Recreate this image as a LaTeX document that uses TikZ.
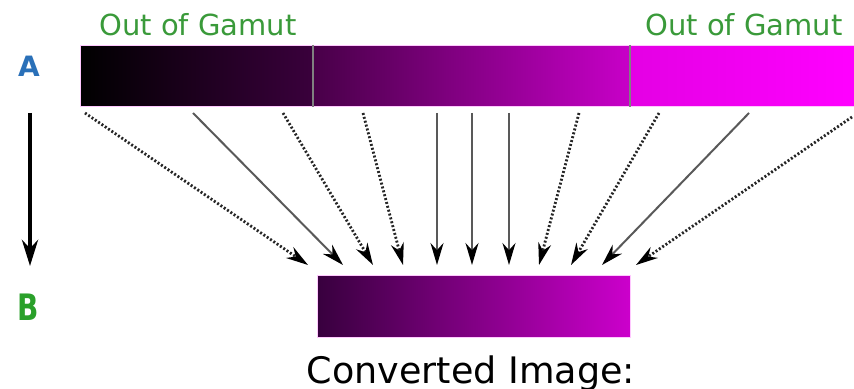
\documentclass[tikz,border=0pt]{standalone}
\usepackage{fontspec}
\setmainfont{DejaVu Sans}
\usepackage{tikz}
\usetikzlibrary{arrows.meta}

\definecolor{gamutgreen}{HTML}{3A9A3A}
\definecolor{labelblue}{HTML}{2A70B8}
\definecolor{labelgreen}{HTML}{2AA02A}
\definecolor{barpink}{HTML}{FFC8FF}

\tikzset{
  bar/.style={draw=barpink, line width=0.5pt, inner sep=0pt, anchor=north west},
  maparrow/.style={line width=1pt, gray!70!black, -{Stealth[length=11pt, width=6.5pt, color=black]}},
  maparrowdot/.style={maparrow, densely dotted, line width=1.4pt, black!85},
  gamutlabel/.style={font=\fontsize{14.5}{16}\selectfont, text=gamutgreen, inner sep=0pt, anchor=base},
  sidelabel/.style={font=\fontsize{14}{16}\selectfont\bfseries, inner sep=0pt}
}

\begin{document}
\begin{tikzpicture}[x=0.5pt, y=-0.5pt]
  \useasboundingbox (0,0) rectangle (854,389);
  % source range (A), three zones
  \node[bar, minimum width=116.5pt, minimum height=30.5pt, left color=black, right color={rgb,255:red,58;green,0;blue,60}] (darkzone) at (80,45) {};
  \node[bar, minimum width=158.5pt, minimum height=30.5pt, left color={rgb,255:red,72;green,0;blue,72}, right color={rgb,255:red,200;green,0;blue,200}] (inzone) at (313,45) {};
  \node[bar, minimum width=112pt, minimum height=30.5pt, left color={rgb,255:red,228;green,0;blue,228}, right color={rgb,255:red,255;green,0;blue,255}] (brightzone) at (630,45) {};
  \draw[gray, line width=0.8pt] (inzone.north west) -- (inzone.south west);
  \draw[gray, line width=0.8pt] (brightzone.north west) -- (brightzone.south west);
  \node[gamutlabel] (gamutleft) at (198,36) {Out of Gamut};
  \node[gamutlabel] (gamutright) at (744,36) {Out of Gamut};
  % converted range (B)
  \node[bar, minimum width=156.5pt, minimum height=31pt, left color={rgb,255:red,56;green,0;blue,62}, right color={rgb,255:red,204;green,0;blue,204}] (converted) at (317,275) {};
  \node[font=\fontsize{18.25}{20}\selectfont, inner sep=0pt, anchor=base] (caption) at (471,383) {Converted Image:};
  % side labels
  \node[sidelabel, text=labelblue] (labA) at (29,66) {A};
  \node[sidelabel, text=labelgreen, yscale=1.3] (labB) at (28,307) {B};
  \coordinate (downtop) at (30,113);
  \coordinate (downbot) at (30,266);
  \draw[line width=2.2pt, -{Stealth[length=13pt, width=8pt]}] (downtop) -- (downbot);
  % mapping arrows
  \foreach \i/\sx/\sy/\ex/\kind in {1/85/113/308/maparrowdot, 2/193/113/343/maparrow,
      3/283/113/373/maparrowdot, 4/363/113/403/maparrowdot, 5/437/113/437/maparrow,
      6/472/113/472/maparrow, 7/509/113/509/maparrow, 8/579/113/539/maparrowdot,
      9/659/113/571/maparrowdot, 10/749/113/602/maparrow, 11/852/117/636/maparrowdot} {
    \coordinate (src\i) at (\sx,\sy);
    \coordinate (dst\i) at (\ex,265);
    \draw[\kind] (src\i) -- (dst\i);
  }
\end{tikzpicture}
\end{document}
